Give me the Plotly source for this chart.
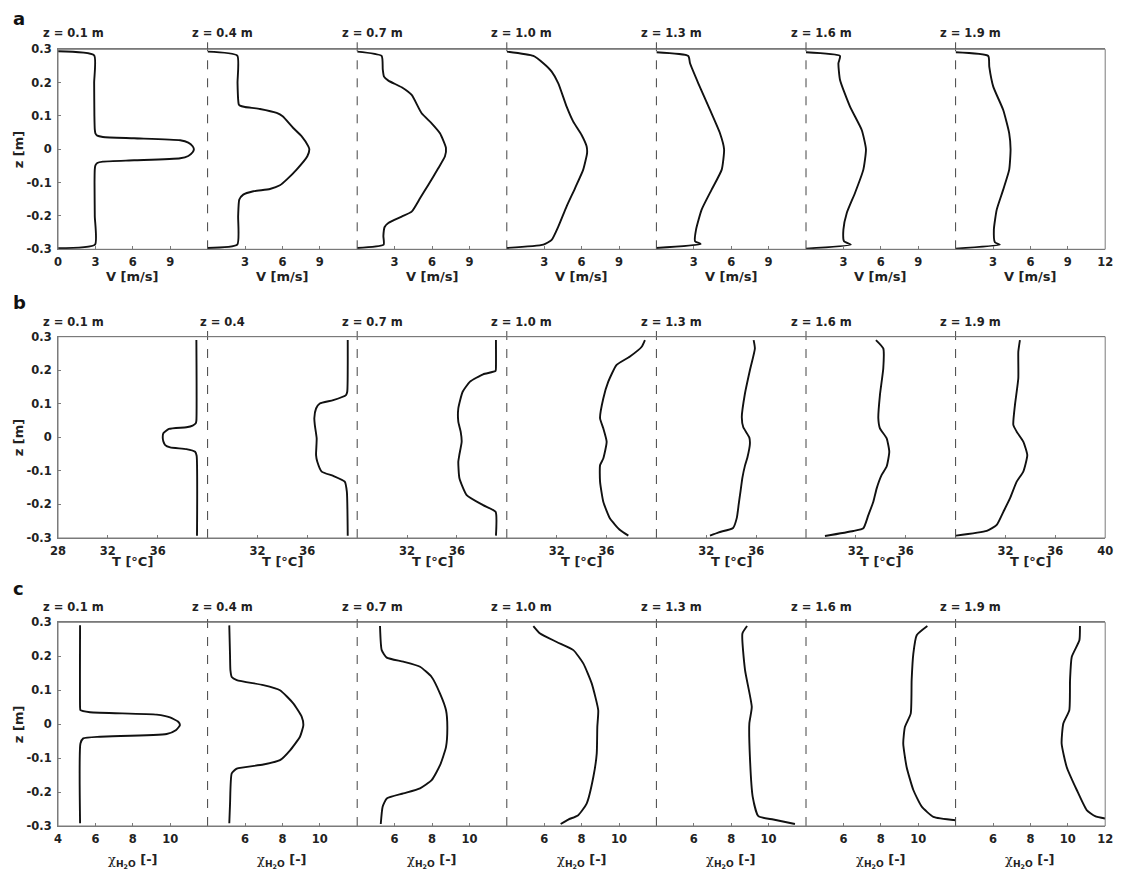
import plotly.graph_objects as go

# page body has an 8 px margin: the figure is drawn 8 px in from the top-left corner
OFF = 8
W, H = 1123 - 2 * OFF, 879 - 2 * OFF

# ---------------- data ----------------
POSITIONS = ["z = 0.1 m", "z = 0.4 m", "z = 0.7 m", "z = 1.0 m", "z = 1.3 m", "z = 1.6 m", "z = 1.9 m"]
POSITIONS_B = ["z = 0.1 m", "z = 0.4", "z = 0.7 m", "z = 1.0 m", "z = 1.3 m", "z = 1.6 m", "z = 1.9 m"]

Z_TICKS = [-0.3, -0.2, -0.1, 0, 0.1, 0.2, 0.3]
Z_TICKTEXT = ["-0.3", "-0.2", "-0.1", "0", "0.1", "0.2", "0.3"]

V_RANGE = [0, 12]
T_RANGE = [28, 40]
X_RANGE = [4, 12]
V_TICKS_FIRST = [0, 3, 6, 9]
V_TICKS_MID = [3, 6, 9]
V_TICKS_LAST = [3, 6, 9, 12]
T_TICKS_FIRST = [28, 32, 36]
T_TICKS_MID = [32, 36]
T_TICKS_LAST = [32, 36, 40]
X_TICKS_FIRST = [4, 6, 8, 10]
X_TICKS_MID = [6, 8, 10]
X_TICKS_LAST = [6, 8, 10, 12]

# Row a: velocity V [m/s]
A1_Z = [0.294, 0.282, 0.20, 0.10, 0.06, 0.048, 0.041, 0.037, 0.033, 0.027, 0.020, 0.009, 0.0,
        -0.009, -0.020, -0.027, -0.033, -0.037, -0.041, -0.048, -0.06, -0.10, -0.20, -0.286, -0.297]
A1_V = [0.0, 2.9, 2.9, 2.92, 2.95, 3.0, 3.15, 3.6, 6.1, 9.8, 10.45, 10.8, 10.9,
        10.8, 10.45, 9.8, 6.1, 3.6, 3.15, 3.0, 2.95, 2.93, 2.95, 2.97, 0.0]
A2_Z = [0.293, 0.281, 0.20, 0.15, 0.135, 0.131, 0.127, 0.121, 0.109, 0.099, 0.064, 0.039, 0.009, 0.0,
        -0.021, -0.061, -0.091, -0.108, -0.119, -0.126, -0.136, -0.151, -0.20, -0.286, -0.296]
A2_V = [0.0, 2.38, 2.4, 2.45, 2.5, 2.6, 3.0, 4.2, 5.54, 6.02, 6.87, 7.55, 8.08, 8.16,
        8.0, 7.14, 6.34, 5.8, 5.0, 3.67, 2.86, 2.54, 2.45, 2.38, 0.0]
A3_Z = [0.293, 0.28, 0.24, 0.218, 0.206, 0.186, 0.163, 0.108, 0.078, 0.048, 0.004, -0.021, -0.057,
        -0.107, -0.147, -0.187, -0.202, -0.221, -0.233, -0.26, -0.286, -0.296]
A3_V = [0.0, 1.96, 2.05, 2.15, 2.5, 3.57, 4.37, 5.17, 5.97, 6.64, 7.12, 7.04, 6.5,
        5.7, 5.04, 4.37, 3.57, 2.5, 2.2, 2.1, 2.12, 0.0]
A4_Z = [0.293, 0.28, 0.258, 0.233, 0.198, 0.128, 0.083, 0.043, 0.009, -0.011, -0.061, -0.117,
        -0.171, -0.232, -0.272, -0.286, -0.296]
A4_V = [0.0, 2.13, 2.93, 3.6, 4.13, 4.8, 5.33, 6.0, 6.4, 6.44, 6.13, 5.47, 4.8, 4.13, 3.6, 2.93, 0.0]
A5_Z = [0.291, 0.28, 0.258, 0.198, 0.118, 0.048, 0.0, -0.061, -0.121, -0.181, -0.241, -0.276, -0.284, -0.296]
A5_V = [0.0, 2.56, 2.7, 3.36, 4.3, 5.1, 5.43, 5.24, 4.43, 3.63, 3.18, 3.1, 3.55, 0.0]
A6_Z = [0.291, 0.28, 0.258, 0.208, 0.128, 0.058, 0.0, -0.061, -0.131, -0.191, -0.241, -0.276, -0.286, -0.298]
A6_V = [0.0, 2.73, 2.6, 2.73, 3.53, 4.47, 4.81, 4.6, 3.93, 3.27, 3.0, 3.05, 3.6, 0.0]
A7_Z = [0.291, 0.28, 0.248, 0.188, 0.118, 0.048, 0.0, -0.061, -0.121, -0.181, -0.241, -0.279, -0.286, -0.298]
A7_V = [0.0, 2.62, 2.7, 3.02, 3.82, 4.3, 4.41, 4.3, 3.82, 3.3, 3.07, 3.15, 3.55, 0.0]

# Row b: temperature T [°C]
B1_Z = [0.29, 0.05, 0.042, 0.035, 0.03, 0.025, 0.012, 0.0, -0.012, -0.023, -0.03, -0.035, -0.043, -0.055, -0.293]
B1_T = [39.1, 39.1, 39.05, 38.8, 38.3, 36.9, 36.45, 36.4, 36.45, 36.6, 37.0, 38.3, 39.0, 39.12, 39.15]
B2_Z = [0.29, 0.136, 0.126, 0.111, 0.101, 0.086, 0.057, 0.037, -0.003, -0.053, -0.073, -0.102,
        -0.115, -0.132, -0.162, -0.293]
B2_T = [39.24, 39.2, 39.1, 38.08, 37.0, 36.7, 36.56, 36.6, 36.75, 36.7, 36.8, 37.15, 38.08, 39.0, 39.17, 39.24]
B3_Z = [0.29, 0.211, 0.198, 0.188, 0.166, 0.136, 0.086, 0.047, 0.017, -0.013, -0.053, -0.073,
        -0.122, -0.172, -0.202, -0.222, -0.293]
B3_T = [39.13, 39.13, 39.1, 38.1, 37.05, 36.46, 36.11, 36.11, 36.3, 36.38, 36.19, 36.11,
        36.2, 36.78, 38.1, 39.1, 39.13]
B4_Z = [0.29, 0.27, 0.241, 0.216, 0.166, 0.116, 0.057, 0.027, -0.013, -0.063, -0.083, -0.132,
        -0.192, -0.242, -0.276, -0.293]
B4_T = [39.08, 38.82, 37.88, 36.81, 36.14, 35.74, 35.48, 35.74, 36.01, 35.74, 35.48, 35.48,
        35.74, 36.28, 37.08, 37.75]
B5_Z = [0.29, 0.265, 0.2, 0.13, 0.06, 0.03, 0.0, -0.02, -0.06, -0.085, -0.12, -0.16, -0.2,
        -0.24, -0.27, -0.283, -0.293]
B5_T = [35.8, 35.9, 35.5, 35.1, 34.85, 34.97, 35.45, 35.5, 35.3, 35.1, 34.9, 34.75, 34.6,
        34.45, 34.15, 33.0, 32.3]
B6_Z = [0.29, 0.265, 0.206, 0.126, 0.057, 0.027, -0.003, -0.043, -0.087, -0.112, -0.152, -0.192,
        -0.232, -0.271, -0.279, -0.294]
B6_T = [33.61, 34.2, 34.2, 33.93, 33.8, 33.93, 34.47, 34.68, 34.47, 34.07, 33.67, 33.4,
        33.0, 32.6, 31.8, 29.52]
B7_Z = [0.29, 0.255, 0.176, 0.096, 0.037, 0.017, -0.013, -0.053, -0.102, -0.132, -0.182, -0.222,
        -0.261, -0.279, -0.293]
B7_T = [33.16, 33.03, 33.03, 32.76, 32.63, 32.9, 33.43, 33.75, 33.43, 32.9, 32.36, 31.83,
        31.3, 30.5, 28.03]

# Row c: water mole fraction chi_H2O [-]
C1_Z = [0.291, 0.051, 0.041, 0.035, 0.028, 0.020, 0.007, -0.003, -0.018, -0.029, -0.037, -0.042, -0.057, -0.292]
C1_X = [5.18, 5.18, 5.2, 5.71, 9.28, 9.99, 10.43, 10.52, 10.3, 9.81, 6.25, 5.35, 5.2, 5.18]
C2_Z = [0.291, 0.2, 0.159, 0.139, 0.13, 0.115, 0.1, 0.061, 0.022, -0.003, -0.037, -0.077,
        -0.106, -0.119, -0.131, -0.145, -0.234, -0.292]
C2_X = [5.16, 5.2, 5.22, 5.29, 5.56, 6.98, 7.87, 8.58, 9.03, 9.12, 8.94, 8.41,
        7.87, 6.98, 5.56, 5.29, 5.2, 5.16]
C3_Z = [0.289, 0.218, 0.196, 0.184, 0.169, 0.139, 0.09, 0.041, -0.008, -0.067, -0.121, -0.165,
        -0.189, -0.204, -0.219, -0.243, -0.294]
C3_X = [5.22, 5.31, 5.58, 6.47, 7.36, 7.98, 8.43, 8.75, 8.82, 8.75, 8.43, 7.98,
        7.36, 6.47, 5.58, 5.36, 5.26]
C4_Z = [0.289, 0.267, 0.242, 0.218, 0.179, 0.12, 0.041, -0.008, -0.086, -0.155, -0.234, -0.268, -0.281, -0.294]
C4_X = [5.42, 5.78, 6.67, 7.56, 8.09, 8.54, 8.89, 8.84, 8.81, 8.63, 8.27, 7.82, 7.29, 6.88]
C5_Z = [0.289, 0.267, 0.159, 0.051, 0.002, -0.096, -0.214, -0.271, -0.281, -0.294]
C5_X = [8.85, 8.6, 8.74, 9.1, 8.97, 9.0, 9.15, 9.45, 10.25, 11.41]
C6_Z = [0.289, 0.262, 0.208, 0.13, 0.031, -0.008, -0.057, -0.126, -0.194, -0.243, -0.273, -0.283]
C6_X = [10.49, 9.92, 9.74, 9.65, 9.6, 9.29, 9.2, 9.38, 9.74, 10.19, 10.81, 12.0]
C7_Z = [0.289, 0.247, 0.198, 0.13, 0.041, 0.002, -0.057, -0.126, -0.194, -0.253, -0.271, -0.278]
C7_X = [10.65, 10.62, 10.21, 10.12, 10.08, 9.76, 9.67, 9.94, 10.48, 11.01, 11.46, 12.0]

ROW_A = [(A1_V, A1_Z), (A2_V, A2_Z), (A3_V, A3_Z), (A4_V, A4_Z), (A5_V, A5_Z), (A6_V, A6_Z), (A7_V, A7_Z)]
ROW_B = [(B1_T, B1_Z), (B2_T, B2_Z), (B3_T, B3_Z), (B4_T, B4_Z), (B5_T, B5_Z), (B6_T, B6_Z), (B7_T, B7_Z)]
ROW_C = [(C1_X, C1_Z), (C2_X, C2_Z), (C3_X, C3_Z), (C4_X, C4_Z), (C5_X, C5_Z), (C6_X, C6_Z), (C7_X, C7_Z)]

# ---------------- layout geometry (window pixels) ----------------
LEFT = 58.0
PANEL_W = 149.6
NP = 7
FONT = "DejaVu Sans"
AXC = "#7a7a7a"
TXT = "#222"
TICK_SIZE = 11.5
TITLE_SIZE = 13

CHI_TITLE = ("<span style='font-family:DejaVu Serif;font-weight:normal'>χ</span>"
             "<sub>H<sub>2</sub>O</sub> [-]")

ROWS = [
    dict(letter="a", data=ROW_A, rng=V_RANGE, ticks=(V_TICKS_FIRST, V_TICKS_MID, V_TICKS_LAST),
         top=49.3, bot=249.3, xtitle="V [m/s]", titles=POSITIONS,
         letter_y=18, title_y=33, xtitle_y=276),
    dict(letter="b", data=ROW_B, rng=T_RANGE, ticks=(T_TICKS_FIRST, T_TICKS_MID, T_TICKS_LAST),
         top=336.7, bot=538.0, xtitle="T [°C]", titles=POSITIONS_B,
         letter_y=302, title_y=322, xtitle_y=561),
    dict(letter="c", data=ROW_C, rng=X_RANGE, ticks=(X_TICKS_FIRST, X_TICKS_MID, X_TICKS_LAST),
         top=622.3, bot=826.0, xtitle=CHI_TITLE,
         titles=POSITIONS, letter_y=588, title_y=607, xtitle_y=861),
]


def px(x):
    return (x - OFF) / W


def py(y):
    return 1 - (y - OFF) / H


fig = go.Figure()
layout = dict(width=W, height=H, margin=dict(l=0, r=0, t=0, b=0, autoexpand=False),
              paper_bgcolor="white", plot_bgcolor="white", showlegend=False)
shapes = []
annotations = []

for r, row in enumerate(ROWS):
    yname = "y" if r == 0 else f"y{r + 1}"
    ykey = "yaxis" if r == 0 else f"yaxis{r + 1}"
    first_x = None
    for j in range(NP):
        idx = r * NP + j + 1
        xname = "x" if idx == 1 else f"x{idx}"
        xkey = "xaxis" if idx == 1 else f"xaxis{idx}"
        if j == 0:
            first_x = xname
        tv = row["ticks"][0] if j == 0 else (row["ticks"][2] if j == NP - 1 else row["ticks"][1])
        x0 = LEFT + PANEL_W * j
        layout[xkey] = dict(
            domain=[px(x0), px(x0 + PANEL_W)], range=row["rng"], anchor=yname,
            tickvals=tv, ticks="inside", ticklen=3, tickcolor=AXC, tickwidth=1,
            showline=True, linecolor=AXC, linewidth=1, mirror=True, automargin=False,
            showgrid=False, zeroline=False, ticklabelstandoff=2,
            tickfont=dict(family=FONT, size=TICK_SIZE, color=TXT, weight="bold"),
        )
        xs, zs = row["data"][j]
        fig.add_trace(go.Scatter(x=xs, y=zs, mode="lines", xaxis=xname, yaxis=yname,
                                 line=dict(color="#111", width=1.9, shape="spline", smoothing=0.5),
                                 hoverinfo="skip"))
        # panel title
        annotations.append(dict(text=row["titles"][j], x=px(x0 + 15), y=py(row["title_y"]),
                                xref="paper", yref="paper", xanchor="center", yanchor="middle",
                                showarrow=False,
                                font=dict(family=FONT, size=TICK_SIZE, color=TXT, weight="bold")))
        # axis title
        annotations.append(dict(text=row["xtitle"], x=px(x0 + PANEL_W / 2), y=py(row["xtitle_y"]),
                                xref="paper", yref="paper", xanchor="center", yanchor="middle",
                                showarrow=False,
                                font=dict(family=FONT, size=TITLE_SIZE, color=TXT, weight="bold")))
        if j > 0:
            shapes.append(dict(type="line", xref="paper", yref="paper",
                               x0=px(x0), x1=px(x0), y0=py(row["bot"]), y1=py(row["top"] - 7),
                               line=dict(color="#444", width=1, dash="dash")))
    layout[ykey] = dict(
        domain=[py(row["bot"]), py(row["top"])], range=[-0.3, 0.3], anchor=first_x,
        tickvals=Z_TICKS, ticktext=Z_TICKTEXT, ticks="inside", ticklen=3, tickcolor=AXC,
        showline=True, linecolor=AXC, linewidth=1, showgrid=False, zeroline=False,
        ticklabelstandoff=3, automargin=False,
        tickfont=dict(family=FONT, size=TICK_SIZE, color=TXT, weight="bold"),
    )
    # y axis title
    annotations.append(dict(text="z [m]", x=px(18), y=py((row["top"] + row["bot"]) / 2),
                            xref="paper", yref="paper", xanchor="center", yanchor="middle",
                            textangle=-90, showarrow=False,
                            font=dict(family=FONT, size=TITLE_SIZE, color=TXT, weight="bold")))
    # row frame
    shapes.append(dict(type="rect", xref="paper", yref="paper",
                       x0=px(LEFT), x1=px(LEFT + PANEL_W * NP), y0=py(row["bot"]), y1=py(row["top"]),
                       line=dict(color=AXC, width=1), layer="above"))
    annotations.append(dict(text=row["letter"], x=px(11), y=py(row["letter_y"]),
                            xref="paper", yref="paper", xanchor="left", yanchor="middle",
                            showarrow=False,
                            font=dict(family=FONT, size=18, color="#111", weight="bold")))

layout["shapes"] = shapes
layout["annotations"] = annotations
fig.update_layout(**layout)
fig.write_html("out.html")
